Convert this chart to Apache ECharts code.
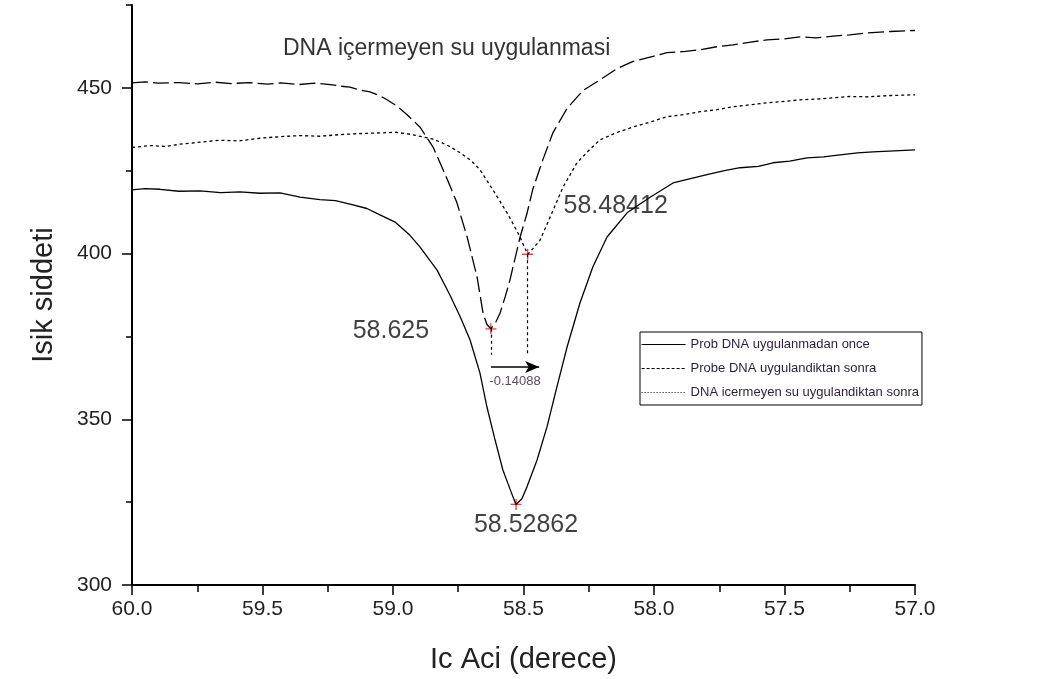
<!DOCTYPE html>
<html>
<head>
<meta charset="utf-8">
<title>Isik siddeti - Ic Aci</title>
<script src="https://cdn.jsdelivr.net/npm/echarts@6.0.0/dist/echarts.min.js"></script>
<style>
  html, body { margin: 0; padding: 0; background: #ffffff; }
  #chart { width: 1061px; height: 679px; }
</style>
</head>
<body>
<div id="chart"></div>
<script>
// Reflectance curves: angle (degrees) against light intensity
const angleWater = [60.00, 59.95, 59.90, 59.82, 59.75, 59.68, 59.62, 59.55, 59.48, 59.43, 59.36, 59.30, 59.24, 59.20, 59.165, 59.13, 59.088, 59.05, 59.023, 58.985, 58.946, 58.897, 58.847, 58.808, 58.782, 58.755, 58.716, 58.678, 58.655, 58.640, 58.625, 58.605, 58.590, 58.570, 58.552, 58.513, 58.487, 58.464, 58.425, 58.387, 58.333, 58.272, 58.207, 58.142, 58.080, 58.00, 57.950, 57.88, 57.824, 57.76, 57.697, 57.63, 57.567, 57.50, 57.441, 57.38, 57.314, 57.25, 57.184, 57.096, 57.00];
const valueWater = [451.5, 451.8, 451.4, 451.6, 451.2, 451.7, 451.3, 451.6, 451.1, 451.5, 451.0, 451.4, 451.0, 450.5, 450.2, 449.4, 448.8, 447.6, 446.4, 444.5, 441.9, 438.2, 432.2, 425.3, 420.5, 415.3, 405.0, 393.0, 382.0, 378.6, 377.3, 379.5, 382.0, 387.0, 392.0, 405.0, 412.0, 419.5, 428.5, 436.5, 443.8, 449.2, 452.4, 455.8, 458.0, 459.6, 460.6, 461.0, 461.5, 462.4, 463.0, 463.8, 464.5, 464.8, 465.4, 465.1, 465.6, 466.0, 466.6, 467.0, 467.3];

const angleProbe = [60.00, 59.931, 59.87, 59.816, 59.74, 59.663, 59.59, 59.51, 59.43, 59.356, 59.28, 59.203, 59.13, 59.05, 58.99, 58.935, 58.885, 58.85, 58.82, 58.78, 58.743, 58.70, 58.667, 58.617, 58.563, 58.513, 58.494, 58.484, 58.464, 58.437, 58.398, 58.349, 58.295, 58.245, 58.207, 58.14, 58.080, 58.01, 57.950, 57.89, 57.824, 57.76, 57.697, 57.63, 57.567, 57.50, 57.441, 57.38, 57.314, 57.25, 57.184, 57.09, 57.00];
const valueProbe = [432.0, 432.6, 432.3, 433.0, 433.6, 434.2, 434.0, 434.8, 435.3, 435.6, 435.4, 435.9, 436.2, 436.4, 436.6, 436.0, 435.2, 434.6, 433.7, 432.2, 430.4, 428.0, 425.3, 419.2, 412.3, 405.0, 401.5, 399.8, 401.5, 404.0, 411.0, 420.0, 427.4, 431.5, 434.3, 436.6, 438.2, 439.8, 441.3, 441.9, 442.8, 443.4, 444.3, 444.9, 445.5, 445.9, 446.4, 446.6, 447.0, 447.4, 447.3, 447.7, 447.9];

const angleBare = [60.00, 59.95, 59.893, 59.82, 59.739, 59.66, 59.586, 59.51, 59.433, 59.356, 59.28, 59.22, 59.153, 59.10, 59.050, 58.992, 58.935, 58.897, 58.831, 58.782, 58.743, 58.705, 58.667, 58.640, 58.609, 58.579, 58.552, 58.529, 58.506, 58.487, 58.448, 58.410, 58.372, 58.333, 58.284, 58.234, 58.180, 58.103, 58.015, 57.927, 57.86, 57.797, 57.73, 57.670, 57.60, 57.544, 57.48, 57.414, 57.35, 57.287, 57.22, 57.161, 57.08, 57.00];
const valueBare = [419.2, 419.6, 419.4, 418.8, 418.9, 418.4, 418.6, 418.2, 418.3, 417.0, 416.3, 416.0, 414.7, 413.6, 411.7, 409.5, 405.5, 402.0, 395.0, 387.5, 381.0, 374.0, 364.0, 353.7, 343.8, 334.7, 329.0, 324.3, 326.0, 329.6, 337.7, 347.7, 359.8, 371.8, 385.0, 396.0, 405.0, 412.3, 417.0, 421.3, 422.6, 423.8, 425.0, 425.9, 426.3, 427.4, 427.9, 428.9, 429.2, 429.8, 430.4, 430.7, 431.0, 431.3];

// Resonance minima (angle, intensity) and their labels
const minimaAngles = [58.625, 58.48412, 58.52862];
const minimaValues = [377.3, 399.8, 324.3];
const minimaLabels = ['58.625', '58.48412', '58.52862'];
const shiftLabel = '-0.14088';

const xTickLabels = [60.0, 59.5, 59.0, 58.5, 58.0, 57.5, 57.0];
const yTickLabels = [300, 350, 400, 450];

const seriesNames = ['Prob DNA uygulanmadan once', 'Probe DNA uygulandiktan sonra', 'DNA icermeyen su uygulandiktan sonra'];
const annotationTitle = 'DNA içermeyen su uygulanmasi';

const zip = (xs, ys) => xs.map((x, i) => [x, ys[i]]);
const FONT = 'Liberation Sans, Arial, sans-serif';

const chart = echarts.init(document.getElementById('chart'), null, { renderer: 'canvas' });

const labelOffsets = [[-100, 2], [88, -48], [10, 21]];

// legend keys show only the line, no marker dot
const hiddenMarker = { color: 'rgba(0,0,0,0)', borderWidth: 0, opacity: 0 };

const option = {
  backgroundColor: '#ffffff',
  animation: false,
  textStyle: { fontFamily: FONT },
  grid: { left: 132, right: 146, top: 5, bottom: 94, containLabel: false },
  graphic: [{
    type: 'text',
    left: 283,
    top: 37,
    style: { text: annotationTitle, font: '23px ' + FONT, fill: '#333333' }
  }],
  legend: {
    orient: 'vertical',
    left: 640,
    top: 332,
    itemWidth: 44,
    itemHeight: 14,
    itemGap: 11,
    padding: [6, 3, 6, 1],
    borderColor: '#000',
    borderWidth: 1,
    backgroundColor: '#fff',
    selectedMode: false,
    itemStyle: hiddenMarker,
    textStyle: { fontFamily: FONT, fontSize: 13, color: '#2b1f33' },
    data: [
      { name: seriesNames[0], itemStyle: hiddenMarker, lineStyle: { type: 'solid', width: 1.2, color: '#000' } },
      { name: seriesNames[1], itemStyle: hiddenMarker, lineStyle: { type: [3, 2], width: 1, color: '#000' } },
      { name: seriesNames[2], itemStyle: hiddenMarker, lineStyle: { type: [1, 2], width: 1, color: '#000' } }
    ]
  },
  xAxis: [{
    type: 'value',
    inverse: true,
    min: 57,
    max: 60,
    interval: 0.5,
    axisLine: { onZero: false, lineStyle: { color: '#000', width: 2 } },
    axisTick: { length: 10, lineStyle: { color: '#000', width: 1.5 }, customValues: xTickLabels },
    axisLabel: { fontSize: 21, color: '#222', margin: 14, fontFamily: FONT,
      customValues: xTickLabels, formatter: v => Number(v).toFixed(1) },
    splitLine: { show: false },
    name: 'Ic Aci (derece)',
    nameLocation: 'middle',
    nameGap: 60,
    nameTextStyle: { fontSize: 29, color: '#222', fontFamily: FONT }
  }, {
    type: 'value',
    inverse: true,
    min: 57,
    max: 60,
    interval: 0.25,
    position: 'bottom',
    axisLine: { show: false },
    axisTick: { length: 7, lineStyle: { color: '#000', width: 1.5 } },
    axisLabel: { show: false },
    splitLine: { show: false }
  }],
  yAxis: [{
    type: 'value',
    min: 300,
    max: 475,
    interval: 50,
    position: 'left',
    axisLine: { onZero: false, show: true, lineStyle: { color: '#000', width: 2 } },
    axisTick: { show: true, length: 10, lineStyle: { color: '#000', width: 1.5 }, customValues: yTickLabels },
    axisLabel: { fontSize: 21, color: '#222', margin: 20, fontFamily: FONT,
      customValues: yTickLabels },
    splitLine: { show: false },
    name: 'Isik siddeti',
    nameLocation: 'middle',
    nameRotate: 90,
    nameGap: 74,
    nameTextStyle: { fontSize: 29, color: '#222', fontFamily: FONT }
  }, {
    type: 'value',
    min: 300,
    max: 475,
    interval: 25,
    position: 'left',
    axisLine: { show: false },
    axisTick: { show: true, length: 6, lineStyle: { color: '#000', width: 1.5 } },
    axisLabel: { show: false },
    splitLine: { show: false }
  }],
  series: [
    {
      name: seriesNames[0],
      type: 'line',
      data: zip(angleBare, valueBare),
      showSymbol: false,
      symbol: 'none',
      lineStyle: { color: '#000', width: 1.3, type: 'solid' },
      itemStyle: { color: '#000' }
    },
    {
      name: seriesNames[1],
      type: 'line',
      data: zip(angleWater, valueWater),
      showSymbol: false,
      symbol: 'none',
      lineStyle: { color: '#000', width: 1.3, type: [16, 5] },
      itemStyle: { color: '#000' }
    },
    {
      name: seriesNames[2],
      type: 'line',
      data: zip(angleProbe, valueProbe),
      showSymbol: false,
      symbol: 'none',
      lineStyle: { color: '#000', width: 1.3, type: [3, 3] },
      itemStyle: { color: '#000' }
    },
    {
      name: 'minima',
      type: 'scatter',
      symbol: 'path://M4.4,0h1.2v10h-1.2z M0,4.4h10v1.2h-10z',
      symbolSize: 11,
      itemStyle: { color: '#e01818' },
      data: minimaAngles.map((a, i) => ({
        value: [a, minimaValues[i]],
        label: {
          show: true,
          formatter: minimaLabels[i],
          position: 'inside',
          offset: labelOffsets[i],
          fontSize: 25,
          color: '#111',
          textBorderWidth: 0,
          fontFamily: FONT
        }
      })),
      markLine: {
        silent: true,
        symbol: ['none', 'none'],
        lineStyle: { color: '#000', width: 1.2, type: [3, 3] },
        label: { show: false },
        data: [
          [{ coord: [minimaAngles[0], minimaValues[0]] }, { coord: [minimaAngles[0], 369.5] }],
          [{ coord: [minimaAngles[1], minimaValues[1]] }, { coord: [minimaAngles[1], 369.5] }],
          [
            { coord: [minimaAngles[0], 365.8], symbol: 'none',
              lineStyle: { type: 'solid', width: 1.6, color: '#000' },
              label: { show: true, position: 'insideMiddleBottom', distance: 8,
                formatter: shiftLabel, fontSize: 13, color: '#5a4a66', fontFamily: FONT } },
            { coord: [58.44, 365.8], symbol: 'arrow', symbolSize: [9, 14] }
          ]
        ]
      }
    }
  ]
};

chart.setOption(option);
</script>
</body>
</html>
